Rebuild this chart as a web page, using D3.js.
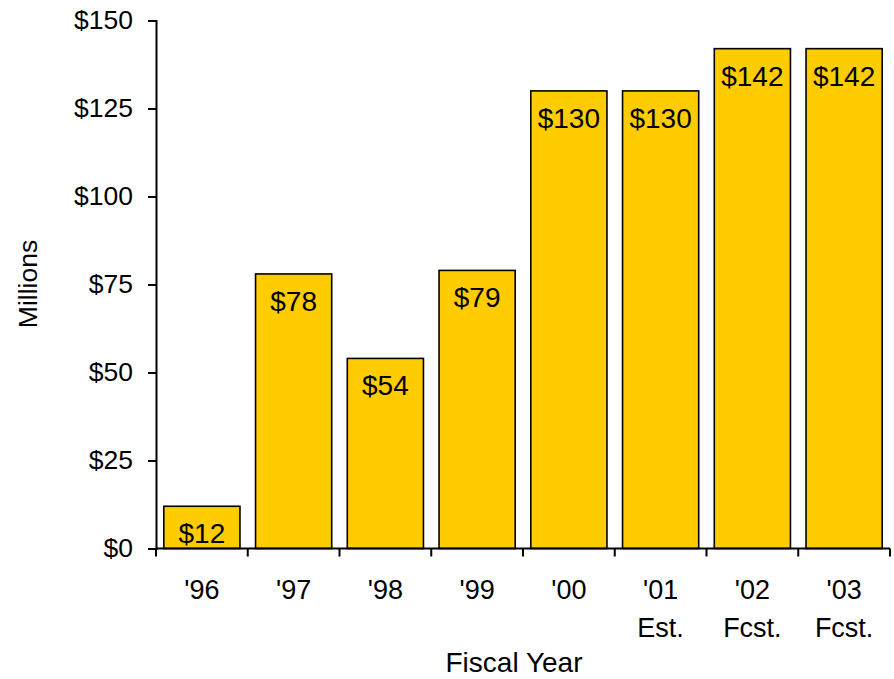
<!DOCTYPE html>
<html>
<head>
<meta charset="utf-8">
<script src="https://cdn.jsdelivr.net/npm/d3@7"></script>
<style>
  html, body { margin: 0; padding: 0; background: #fff; }
  svg { display: block; }
  text { font-family: "Liberation Sans", Arial, sans-serif; fill: #000; }
</style>
</head>
<body>
<svg id="chart" width="894" height="679"></svg>
<script>
// Fiscal-year funding, millions of dollars
const years = ["'96", "'97", "'98", "'99", "'00", "'01", "'02", "'03"];
const subLabels = ["", "", "", "", "", "Est.", "Fcst.", "Fcst."];
const values = [12, 78, 54, 79, 130, 130, 142, 142];
const yTicks = [0, 25, 50, 75, 100, 125, 150];

const svg = d3.select("#chart");
const plotLeft = 156, plotRight = 890, plotTop = 20.5, plotBottom = 548.5;

const x = d3.scaleBand()
  .domain(years)
  .range([plotLeft, plotRight])
  .paddingInner(0.17)
  .paddingOuter(0.085);

const y = d3.scaleLinear().domain([0, 150]).range([plotBottom, plotTop]);

const fmt = d => "$" + d3.format(",.0f")(d);

// Bars
svg.append("g")
  .selectAll("rect")
  .data(values)
  .join("rect")
  .attr("x", (d, i) => x(years[i]))
  .attr("y", d => y(d))
  .attr("width", x.bandwidth())
  .attr("height", d => y(0) - y(d))
  .attr("fill", "#FFCC00")
  .attr("stroke", "#000")
  .attr("stroke-width", 1.6);

// Value labels just inside the top of each bar
svg.append("g")
  .selectAll("text")
  .data(values)
  .join("text")
  .attr("x", (d, i) => x(years[i]) + x.bandwidth() / 2)
  .attr("y", d => y(d) + 37)
  .attr("text-anchor", "middle")
  .attr("font-size", 28)
  .text(fmt);

// Y axis
const yAxis = d3.axisLeft(y)
  .tickValues(yTicks)
  .tickFormat(fmt)
  .tickSize(8)
  .tickPadding(15);
const gy = svg.append("g")
  .attr("transform", `translate(${plotLeft},0)`)
  .call(yAxis);
gy.select(".domain").attr("stroke", "#000").attr("stroke-width", 2);
gy.selectAll(".tick line").attr("stroke", "#000").attr("stroke-width", 2);
gy.selectAll(".tick text")
  .attr("font-size", 26.5)
  .attr("font-family", "Liberation Sans, Arial, sans-serif")
  .attr("fill", "#000");

// X axis baseline and category-boundary ticks
const step = x.step();
const gap = step * x.paddingInner();
const bounds = years.map(c => x(c) - gap / 2)
  .concat([x(years[years.length - 1]) + x.bandwidth() + gap / 2]);
const gx = svg.append("g");
gx.append("line")
  .attr("x1", plotLeft).attr("x2", plotRight)
  .attr("y1", y(0)).attr("y2", y(0))
  .attr("stroke", "#000").attr("stroke-width", 2);
gx.selectAll("line.tk")
  .data(bounds)
  .join("line")
  .attr("class", "tk")
  .attr("x1", d => d).attr("x2", d => d)
  .attr("y1", y(0)).attr("y2", y(0) + 8)
  .attr("stroke", "#000").attr("stroke-width", 2);

// Category labels (two lines where needed)
gx.selectAll("text.cat")
  .data(years)
  .join("text")
  .attr("class", "cat")
  .attr("text-anchor", "middle")
  .attr("font-size", 27)
  .attr("x", d => x(d) + x.bandwidth() / 2)
  .attr("y", 599)
  .text(d => d);
gx.selectAll("text.sub")
  .data(subLabels)
  .join("text")
  .attr("class", "sub")
  .attr("text-anchor", "middle")
  .attr("font-size", 27)
  .attr("x", (d, i) => x(years[i]) + x.bandwidth() / 2)
  .attr("y", 637)
  .text(d => d);

// Axis titles
svg.append("text")
  .attr("x", 514)
  .attr("y", 672)
  .attr("text-anchor", "middle")
  .attr("font-size", 28)
  .text("Fiscal Year");

svg.append("text")
  .attr("transform", "translate(37,284) rotate(-90)")
  .attr("text-anchor", "middle")
  .attr("font-size", 26.5)
  .text("Millions");
</script>
</body>
</html>
